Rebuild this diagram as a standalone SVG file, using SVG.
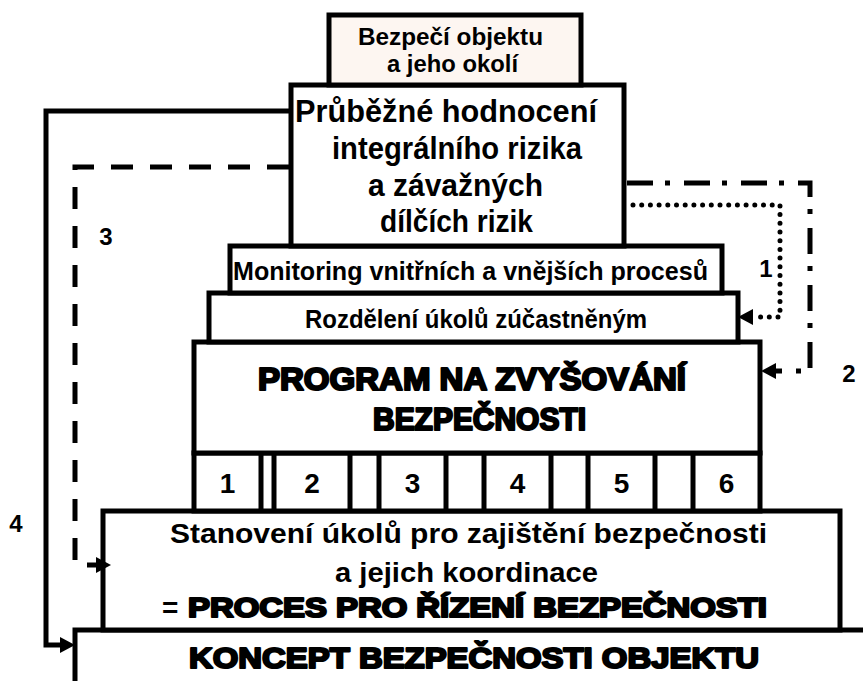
<svg xmlns="http://www.w3.org/2000/svg" width="863" height="681" viewBox="0 0 863 681">
  <defs>
    <style>
      .box { fill: #ffffff; stroke: #000000; stroke-width: 5; }
      .edge { fill: none; stroke: #000000; stroke-width: 5; }
      .t { font-family: "Liberation Sans", Arial, sans-serif; font-weight: bold; fill: #000000; }
      .blk { font-family: "Liberation Sans", Arial, sans-serif; font-weight: bold; fill: #000000; stroke: #000000; stroke-width: 2.2; stroke-linejoin: round; }
      .num { font-family: "Liberation Sans", Arial, sans-serif; font-weight: bold; font-size: 28px; text-anchor: middle; fill: #000000; }
      .lbl { font-family: "Liberation Sans", Arial, sans-serif; font-weight: bold; font-size: 24px; text-anchor: middle; fill: #000000; }
      .wire { fill: none; stroke: #000000; stroke-width: 5; }
      .dashed { stroke-dasharray: 22 17; }
      .dashdot { stroke-dasharray: 26 12 5 14; }
      .dotted { stroke-dasharray: 0 8.7; stroke-linecap: round; }
    </style>
    <marker id="arrow" viewBox="0 0 15 16" refX="0" refY="8" markerWidth="15" markerHeight="16" markerUnits="userSpaceOnUse" orient="auto">
      <path d="M0,0 L15,8 L0,16 z" fill="#000000"/>
    </marker>
  </defs>

  <rect width="863" height="681" fill="#ffffff"/>

  <!-- base layer: concept, open to the right and bottom -->
  <g id="koncept">
    <path class="box" d="M75,690 V630 H870"/>
    <text class="blk" x="189" y="668" font-size="30" textLength="570" lengthAdjust="spacingAndGlyphs">KONCEPT BEZPEČNOSTI OBJEKTU</text>
  </g>

  <g id="stanoveni">
    <rect class="box" x="103" y="511" width="737" height="119"/>
    <text class="t" x="170" y="543" font-size="28" textLength="597" lengthAdjust="spacingAndGlyphs">Stanovení  úkolů pro zajištění bezpečnosti</text>
    <text class="t" x="335" y="582" font-size="28" textLength="263" lengthAdjust="spacingAndGlyphs">a jejich koordinace</text>
    <text class="t" x="162" y="617" font-size="28">=</text>
    <text class="blk" x="188" y="617" font-size="28" textLength="579" lengthAdjust="spacingAndGlyphs">PROCES PRO ŘÍZENÍ BEZPEČNOSTI</text>
  </g>

  <!-- row of program parts -->
  <g id="casti">
    <rect class="box" x="194" y="453" width="566" height="58"/>
    <path class="edge" d="M261,453 V511 M274,453 V511 M350,453 V511 M379,453 V511 M446,453 V511 M484,453 V511 M551,453 V511 M588,453 V511 M655,453 V511 M693,453 V511"/>
    <text class="num" x="227.5" y="493">1</text>
    <text class="num" x="312" y="493">2</text>
    <text class="num" x="412.5" y="493">3</text>
    <text class="num" x="517.5" y="493">4</text>
    <text class="num" x="621.5" y="493">5</text>
    <text class="num" x="726.5" y="493">6</text>
  </g>

  <g id="program">
    <rect class="box" x="194" y="342" width="566" height="111"/>
    <text class="blk" x="258" y="390" font-size="31" textLength="428" lengthAdjust="spacingAndGlyphs">PROGRAM NA ZVYŠOVÁNÍ</text>
    <text class="blk" x="373" y="430" font-size="31" textLength="213" lengthAdjust="spacingAndGlyphs">BEZPEČNOSTI</text>
  </g>

  <g id="rozdeleni">
    <rect class="box" x="209" y="293" width="529" height="49"/>
    <text class="t" x="305" y="328" font-size="25" textLength="342" lengthAdjust="spacingAndGlyphs">Rozdělení úkolů zúčastněným</text>
  </g>

  <g id="monitoring">
    <rect class="box" x="230" y="246" width="492" height="47"/>
    <text class="t" x="233" y="280" font-size="25" textLength="475" lengthAdjust="spacingAndGlyphs">Monitoring vnitřních a vnějších procesů</text>
  </g>

  <g id="hodnoceni">
    <rect class="box" x="291" y="85" width="333" height="161"/>
    <text class="t" x="295" y="122" font-size="31" textLength="302" lengthAdjust="spacingAndGlyphs">Průběžné hodnocení</text>
    <text class="t" x="332" y="159" font-size="31" textLength="250" lengthAdjust="spacingAndGlyphs">integrálního rizika</text>
    <text class="t" x="368" y="196" font-size="31" textLength="175" lengthAdjust="spacingAndGlyphs">a závažných</text>
    <text class="t" x="380" y="232" font-size="31" textLength="153" lengthAdjust="spacingAndGlyphs">dílčích rizik</text>
  </g>

  <g id="bezpeci">
    <rect class="box" x="329" y="15" width="252" height="70" style="fill:#fdf6f1"/>
    <text class="t" x="358" y="45" font-size="24" textLength="185" lengthAdjust="spacingAndGlyphs">Bezpečí objektu</text>
    <text class="t" x="387" y="72" font-size="24" textLength="131" lengthAdjust="spacingAndGlyphs">a jeho okolí</text>
  </g>

  <!-- feedback loops -->
  <g id="connectors">
    <path class="wire dotted" d="M633,205 H780 V317 H753" marker-end="url(#arrow)"/>
    <path class="wire dashdot" d="M627,183 H810 V371 H776" marker-end="url(#arrow)"/>
    <path class="wire dashed" d="M289,167 H75 V565 H96" marker-end="url(#arrow)"/>
    <path class="wire" d="M289,111 H46 V645 H60" marker-end="url(#arrow)"/>
    <text class="lbl" x="766" y="277">1</text>
    <text class="lbl" x="849" y="382">2</text>
    <text class="lbl" x="106" y="245">3</text>
    <text class="lbl" x="16" y="532">4</text>
  </g>
</svg>
